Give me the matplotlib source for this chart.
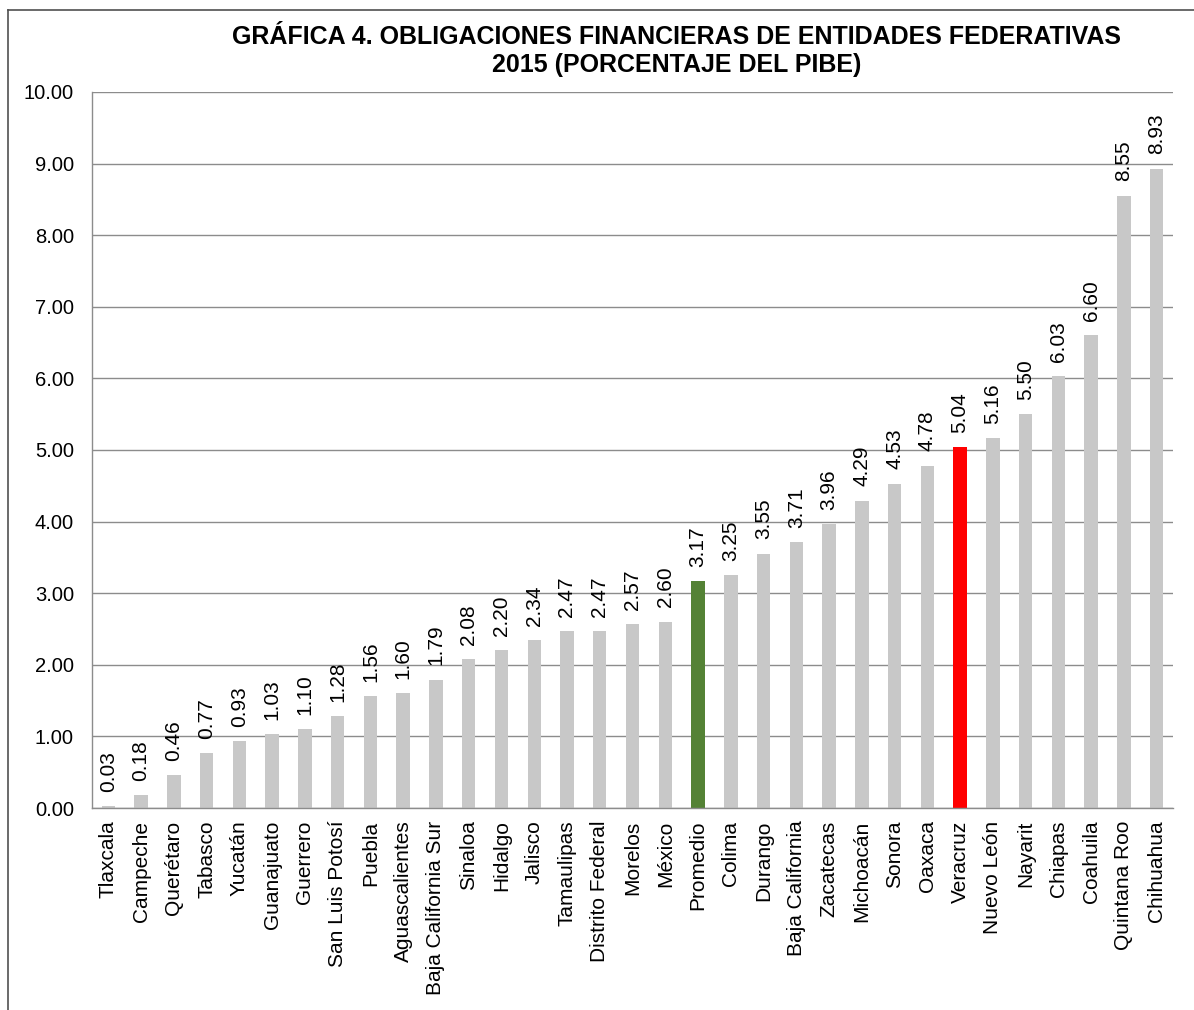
import matplotlib.pyplot as plt
import numpy as np

plt.rcParams['font.family'] = ['Liberation Sans', 'DejaVu Sans']

estados = ['Tlaxcala', 'Campeche', 'Querétaro', 'Tabasco', 'Yucatán', 'Guanajuato',
           'Guerrero', 'San Luis Potosí', 'Puebla', 'Aguascalientes', 'Baja California Sur',
           'Sinaloa', 'Hidalgo', 'Jalisco', 'Tamaulipas', 'Distrito Federal', 'Morelos',
           'México', 'Promedio', 'Colima', 'Durango', 'Baja California', 'Zacatecas',
           'Michoacán', 'Sonora', 'Oaxaca', 'Veracruz', 'Nuevo León', 'Nayarit',
           'Chiapas', 'Coahuila', 'Quintana Roo', 'Chihuahua']
valores = [0.03, 0.18, 0.46, 0.77, 0.93, 1.03, 1.10, 1.28, 1.56, 1.60, 1.79,
           2.08, 2.20, 2.34, 2.47, 2.47, 2.57, 2.60, 3.17, 3.25, 3.55, 3.71, 3.96,
           4.29, 4.53, 4.78, 5.04, 5.16, 5.50, 6.03, 6.60, 8.55, 8.93]
resaltados = {'Promedio': '#548235', 'Veracruz': '#FF0000'}
yticks = np.arange(0, 10.01, 1.0)

fig = plt.figure(figsize=(11.94, 10.10), dpi=100)
ax = fig.add_axes([0.077, 0.2, 0.9055, 0.709])

x = np.arange(len(estados))
colores = [resaltados.get(e, '#C8C8C8') for e in estados]
ax.bar(x, valores, width=0.41, color=colores, zorder=2)

for xi, v in zip(x, valores):
    ax.text(xi, v + 0.2, f'{v:.2f}', rotation=90, ha='center', va='bottom',
            fontsize=15, color='black')

ax.set_xlim(-0.5, len(estados) - 0.5)
ax.set_ylim(0, 10)
ax.set_yticks(yticks)
ax.set_yticklabels([f'{t:.2f}' for t in yticks], fontsize=14.5)
ax.set_xticks(x)
ax.set_xticklabels(estados, rotation=90, fontsize=15)
ax.tick_params(axis='y', length=0, pad=13)
ax.tick_params(axis='x', length=0, pad=9)
ax.yaxis.grid(True, color='#8C8C8C', linewidth=1.0, zorder=0)
ax.set_axisbelow(True)
for s in ['top', 'right']:
    ax.spines[s].set_visible(False)
for s in ['left', 'bottom']:
    ax.spines[s].set_color('#8C8C8C')
    ax.spines[s].set_linewidth(1.0)

fig.text(0.567, 0.9495, 'GRÁFICA 4. OBLIGACIONES FINANCIERAS DE ENTIDADES FEDERATIVAS\n2015 (PORCENTAJE DEL PIBE)',
         ha='center', va='center', fontsize=18, fontweight='bold', linespacing=1.25)

# marco del gráfico (sólo bordes izquierdo y superior visibles)
fig.add_artist(plt.Line2D([0.0065, 0.0065], [0, 0.99], color='#505050', linewidth=1.2))
fig.add_artist(plt.Line2D([0.0065, 1.0], [0.99, 0.99], color='#505050', linewidth=1.2))

fig.savefig('out.png', dpi=100)
